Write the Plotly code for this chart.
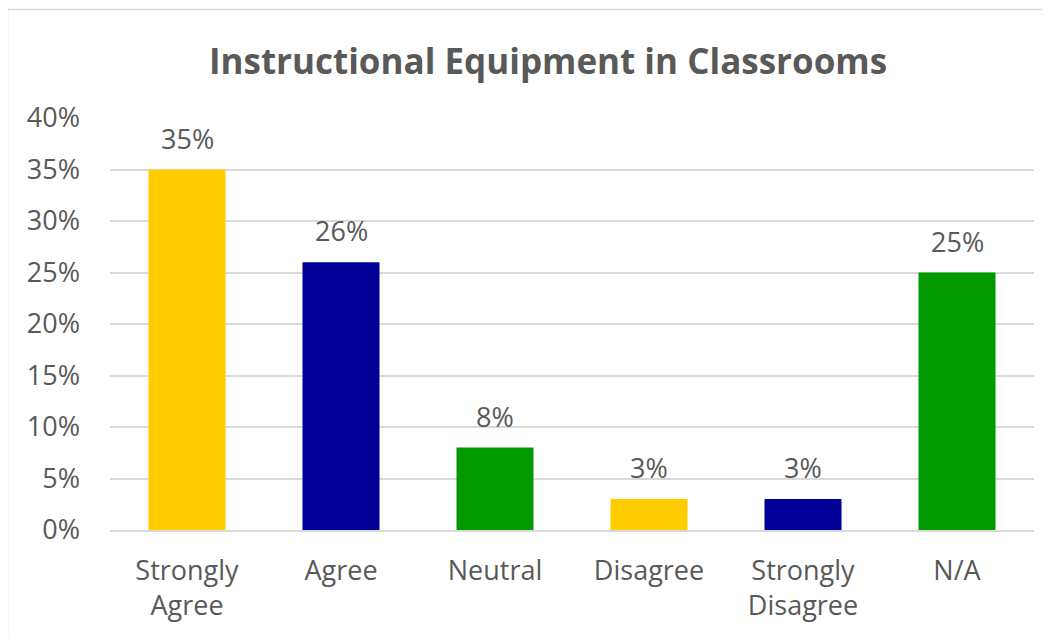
import plotly.graph_objects as go

categories = ["Strongly<br>Agree", "Agree", "Neutral", "Disagree", "Strongly<br>Disagree", "N/A"]
values = [0.35, 0.26, 0.08, 0.03, 0.03, 0.25]
colors = ["#FFCC00", "#000099", "#009900", "#FFCC00", "#000099", "#009900"]
labels = ["35%", "26%", "8%", "3%", "3%", "25%"]
y_ticks = [0, 0.05, 0.10, 0.15, 0.20, 0.25, 0.30, 0.35, 0.40]
y_tick_text = ["0%", "5%", "10%", "15%", "20%", "25%", "30%", "35%", "40%"]

FONT = "Open Sans"
GRAY = "#595959"

# page body has an 8px default margin: work in screen pixels, shift by OFF
OFF = 8
W, H = 1050, 638
L, R, T, B = 110 - OFF, W - (1034 - OFF), 118 - OFF, H - (530 - OFF)
pw, ph = W - L - R, H - T - B

def px(x):
    return (x - OFF - L) / pw

def py(y):
    return (H - B - (y - OFF)) / ph

fig = go.Figure()
fig.add_trace(go.Bar(
    x=categories, y=values, marker=dict(color=colors, line=dict(width=0)),
    hoverinfo="skip",
))

for c, v, t in zip(categories, values, labels):
    fig.add_annotation(x=c, y=v, text=t, showarrow=False, yanchor="bottom",
                       yshift=11, font=dict(family=FONT, size=27, color=GRAY))

fig.add_shape(type="line", xref="paper", yref="paper", x0=px(7.5), x1=px(1070),
              y0=py(9.5), y1=py(9.5), line=dict(color="#d9d9d9", width=1.5), layer="below")
fig.add_shape(type="line", xref="paper", yref="paper", x0=px(7.5), x1=px(7.5),
              y0=py(9.5), y1=py(670), line=dict(color="#d9d9d9", width=1.5), layer="below")

fig.update_layout(
    width=W, height=H,
    margin=dict(l=L, r=R, t=T, b=B),
    paper_bgcolor="white", plot_bgcolor="white",
    bargap=0.5,
    showlegend=False,
    title=dict(text="<b>Instructional Equipment in Classrooms</b>", xref="container",
               x=(548 - OFF) / W, xanchor="center", yref="container",
               y=1 - (62 - OFF) / H, yanchor="middle",
               font=dict(family=FONT, size=35, color=GRAY)),
    font=dict(family=FONT, color=GRAY),
)
fig.update_yaxes(range=[0, 0.40], tickvals=y_ticks, ticktext=y_tick_text,
                 showgrid=True, gridcolor="#d9d9d9", gridwidth=1.5, zeroline=False,
                 showline=False, ticks="", ticklabelstandoff=29,
                 tickfont=dict(family=FONT, size=27, color=GRAY))
fig.update_xaxes(showgrid=False, showline=True, linecolor="#d9d9d9", linewidth=1.5,
                 ticks="", ticklabelstandoff=16,
                 tickfont=dict(family=FONT, size=27, color=GRAY))

fig.write_html("out.html")
